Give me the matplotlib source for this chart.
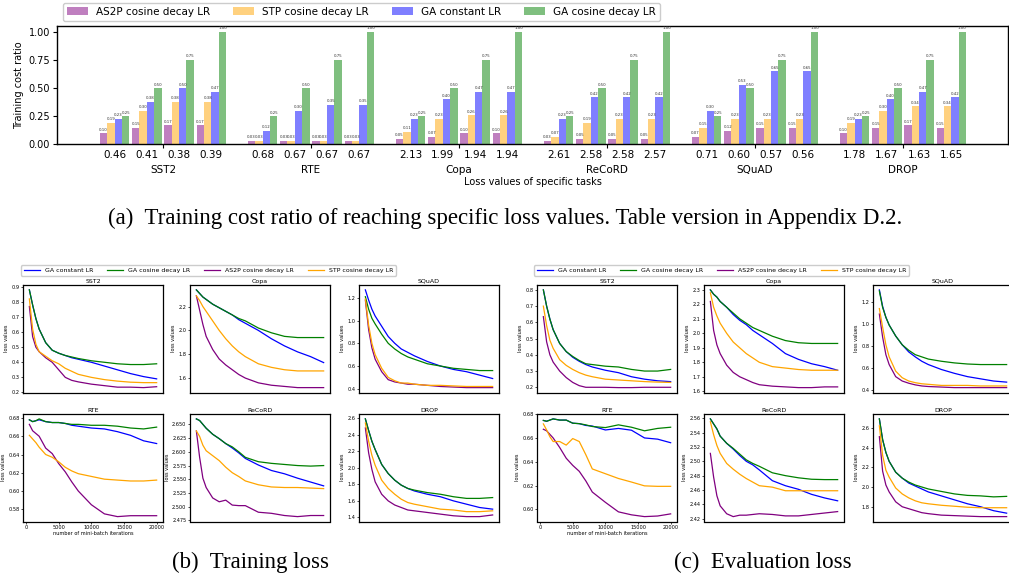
import matplotlib
matplotlib.use("Agg")
from matplotlib import pyplot as plt
import numpy as np

W, H = 1009, 573

# ---- bar chart data (training cost ratio) ----
tasks = ["SST2", "RTE", "Copa", "ReCoRD", "SQuAD", "DROP"]
loss_points = [["0.46", "0.41", "0.38", "0.39"],
               ["0.68", "0.67", "0.67", "0.67"],
               ["2.13", "1.99", "1.94", "1.94"],
               ["2.61", "2.58", "2.58", "2.57"],
               ["0.71", "0.60", "0.57", "0.56"],
               ["1.78", "1.67", "1.63", "1.65"]]
bar_methods = ["AS2P cosine decay LR", "STP cosine decay LR", "GA constant LR", "GA cosine decay LR"]
bar_colors = ["purple", "orange", "blue", "green"]
as2p_ratio = [[0.10, 0.15, 0.17, 0.17], [0.03, 0.03, 0.03, 0.03], [0.05, 0.07, 0.10, 0.10],
              [0.03, 0.05, 0.05, 0.05], [0.07, 0.12, 0.15, 0.15], [0.10, 0.15, 0.17, 0.15]]
stp_ratio = [[0.19, 0.30, 0.38, 0.38], [0.03, 0.03, 0.03, 0.03], [0.11, 0.23, 0.26, 0.26],
             [0.07, 0.19, 0.23, 0.23], [0.15, 0.23, 0.23, 0.23], [0.19, 0.30, 0.34, 0.34]]
ga_const_ratio = [[0.23, 0.38, 0.50, 0.47], [0.12, 0.30, 0.35, 0.35], [0.23, 0.40, 0.47, 0.47],
                  [0.23, 0.42, 0.42, 0.42], [0.30, 0.53, 0.65, 0.65], [0.23, 0.40, 0.47, 0.42]]
ga_cos_ratio = [[0.25, 0.50, 0.75, 1.00]] * 6

# ---- loss curves ----
iters = [500, 1000, 1500, 2000, 3000, 4000, 5000, 6000, 7000, 8000,
         10000, 12000, 14000, 16000, 18000, 20000]
line_labels = ["GA constant LR", "GA cosine decay LR", "AS2P cosine decay LR", "STP cosine decay LR"]
line_colors = ["blue", "green", "purple", "orange"]
panel_tasks = ["SST2", "Copa", "SQuAD", "RTE", "ReCoRD", "DROP"]

# training loss, order: GA const, GA cos, AS2P, STP
train_sst2 = [[0.88, 0.78, 0.69, 0.62, 0.53, 0.48, 0.46, 0.445, 0.43, 0.42, 0.40, 0.375, 0.35, 0.325, 0.305, 0.29],
              [0.88, 0.78, 0.69, 0.62, 0.53, 0.48, 0.46, 0.445, 0.435, 0.425, 0.41, 0.40, 0.39, 0.385, 0.385, 0.39],
              [0.77, 0.57, 0.50, 0.47, 0.43, 0.40, 0.35, 0.30, 0.28, 0.27, 0.255, 0.245, 0.235, 0.235, 0.232, 0.238],
              [0.82, 0.62, 0.52, 0.47, 0.44, 0.41, 0.39, 0.36, 0.34, 0.32, 0.30, 0.285, 0.275, 0.268, 0.265, 0.265]]
train_copa = [[2.34, 2.31, 2.28, 2.26, 2.22, 2.19, 2.16, 2.13, 2.09, 2.06, 2.00, 1.93, 1.87, 1.82, 1.78, 1.73],
              [2.34, 2.31, 2.28, 2.26, 2.22, 2.19, 2.16, 2.13, 2.10, 2.08, 2.02, 1.98, 1.95, 1.94, 1.94, 1.94],
              [2.29, 2.17, 2.05, 1.95, 1.84, 1.76, 1.71, 1.67, 1.63, 1.60, 1.56, 1.54, 1.53, 1.52, 1.52, 1.52],
              [2.29, 2.25, 2.20, 2.16, 2.08, 2.00, 1.93, 1.87, 1.82, 1.78, 1.72, 1.69, 1.67, 1.66, 1.66, 1.66]]
train_squad = [[1.27, 1.18, 1.10, 1.04, 0.95, 0.86, 0.80, 0.75, 0.72, 0.69, 0.64, 0.60, 0.57, 0.55, 0.52, 0.49],
               [1.21, 1.10, 1.02, 0.97, 0.88, 0.80, 0.75, 0.71, 0.68, 0.66, 0.62, 0.60, 0.58, 0.57, 0.56, 0.56],
               [1.18, 0.92, 0.76, 0.66, 0.55, 0.48, 0.46, 0.45, 0.44, 0.44, 0.43, 0.42, 0.415, 0.41, 0.41, 0.41],
               [1.19, 0.96, 0.80, 0.70, 0.58, 0.50, 0.47, 0.45, 0.45, 0.44, 0.43, 0.43, 0.425, 0.42, 0.42, 0.42]]
train_rte = [[0.678, 0.676, 0.677, 0.678, 0.676, 0.675, 0.675, 0.674, 0.672, 0.671, 0.669, 0.668, 0.665, 0.661, 0.655, 0.652],
             [0.678, 0.676, 0.677, 0.679, 0.676, 0.675, 0.675, 0.674, 0.673, 0.673, 0.672, 0.672, 0.671, 0.669, 0.668, 0.670],
             [0.673, 0.666, 0.663, 0.660, 0.647, 0.641, 0.630, 0.621, 0.610, 0.600, 0.585, 0.575, 0.572, 0.573, 0.573, 0.573],
             [0.661, 0.657, 0.653, 0.648, 0.640, 0.637, 0.632, 0.626, 0.622, 0.619, 0.616, 0.613, 0.612, 0.611, 0.611, 0.612]]
train_record = [[2.660, 2.657, 2.650, 2.643, 2.632, 2.624, 2.615, 2.607, 2.598, 2.588, 2.576, 2.566, 2.560, 2.552, 2.545, 2.538],
                [2.660, 2.657, 2.650, 2.643, 2.632, 2.624, 2.615, 2.609, 2.600, 2.590, 2.582, 2.579, 2.577, 2.575, 2.574, 2.575],
                [2.638, 2.590, 2.552, 2.535, 2.516, 2.509, 2.512, 2.503, 2.502, 2.502, 2.490, 2.488, 2.484, 2.482, 2.484, 2.484],
                [2.638, 2.628, 2.612, 2.602, 2.593, 2.584, 2.572, 2.562, 2.555, 2.547, 2.540, 2.536, 2.535, 2.535, 2.534, 2.533]]
train_drop = [[2.59, 2.45, 2.32, 2.22, 2.04, 1.93, 1.85, 1.79, 1.75, 1.72, 1.68, 1.65, 1.60, 1.56, 1.52, 1.50],
              [2.59, 2.45, 2.32, 2.22, 2.04, 1.93, 1.85, 1.79, 1.75, 1.73, 1.70, 1.68, 1.65, 1.63, 1.63, 1.64],
              [2.48, 2.18, 1.98, 1.83, 1.68, 1.60, 1.55, 1.52, 1.49, 1.48, 1.46, 1.44, 1.42, 1.41, 1.41, 1.43],
              [2.54, 2.32, 2.15, 2.03, 1.85, 1.75, 1.68, 1.62, 1.58, 1.56, 1.53, 1.50, 1.49, 1.47, 1.47, 1.48]]

# evaluation loss
eval_sst2 = [[0.80, 0.70, 0.62, 0.555, 0.47, 0.42, 0.385, 0.36, 0.34, 0.325, 0.305, 0.29, 0.265, 0.25, 0.24, 0.235],
             [0.80, 0.70, 0.62, 0.555, 0.47, 0.42, 0.39, 0.365, 0.345, 0.34, 0.33, 0.325, 0.31, 0.30, 0.30, 0.31],
             [0.635, 0.48, 0.40, 0.355, 0.30, 0.26, 0.23, 0.21, 0.20, 0.20, 0.20, 0.198, 0.198, 0.20, 0.20, 0.20],
             [0.70, 0.58, 0.49, 0.44, 0.37, 0.335, 0.31, 0.29, 0.275, 0.265, 0.25, 0.245, 0.24, 0.235, 0.232, 0.23]]
eval_copa = [[2.30, 2.27, 2.25, 2.22, 2.18, 2.13, 2.09, 2.06, 2.02, 1.99, 1.93, 1.86, 1.82, 1.79, 1.77, 1.745],
             [2.30, 2.27, 2.25, 2.22, 2.18, 2.14, 2.10, 2.07, 2.04, 2.02, 1.98, 1.95, 1.935, 1.93, 1.93, 1.93],
             [2.22, 2.02, 1.92, 1.86, 1.78, 1.73, 1.70, 1.68, 1.66, 1.645, 1.635, 1.63, 1.625, 1.625, 1.63, 1.63],
             [2.28, 2.18, 2.12, 2.07, 2.00, 1.94, 1.90, 1.86, 1.83, 1.80, 1.77, 1.76, 1.75, 1.745, 1.745, 1.745]]
eval_squad = [[1.31, 1.16, 1.06, 0.99, 0.89, 0.81, 0.745, 0.70, 0.66, 0.63, 0.585, 0.55, 0.52, 0.50, 0.48, 0.47],
              [1.30, 1.15, 1.06, 0.99, 0.89, 0.81, 0.76, 0.72, 0.70, 0.68, 0.66, 0.645, 0.635, 0.63, 0.63, 0.63],
              [1.09, 0.88, 0.72, 0.63, 0.52, 0.48, 0.46, 0.445, 0.435, 0.43, 0.425, 0.42, 0.42, 0.42, 0.42, 0.42],
              [1.14, 0.97, 0.81, 0.70, 0.57, 0.51, 0.48, 0.465, 0.455, 0.45, 0.44, 0.44, 0.44, 0.435, 0.435, 0.435]]
eval_rte = [[0.6747, 0.674, 0.675, 0.676, 0.675, 0.675, 0.6724, 0.672, 0.6705, 0.670, 0.6667, 0.668, 0.6665, 0.660, 0.659, 0.656],
            [0.6747, 0.674, 0.675, 0.676, 0.675, 0.675, 0.6724, 0.672, 0.671, 0.6696, 0.6687, 0.671, 0.669, 0.666, 0.668, 0.669],
            [0.6673, 0.666, 0.663, 0.660, 0.652, 0.643, 0.637, 0.632, 0.624, 0.6146, 0.606, 0.598, 0.5955, 0.594, 0.5945, 0.5963],
            [0.6718, 0.6667, 0.661, 0.657, 0.657, 0.654, 0.6595, 0.657, 0.646, 0.634, 0.630, 0.626, 0.623, 0.6198, 0.6194, 0.6194]]
eval_record = [[2.559, 2.552, 2.545, 2.535, 2.525, 2.517, 2.508, 2.500, 2.495, 2.488, 2.473, 2.466, 2.461, 2.454, 2.449, 2.445],
               [2.559, 2.552, 2.545, 2.535, 2.525, 2.518, 2.510, 2.502, 2.497, 2.493, 2.484, 2.480, 2.477, 2.475, 2.4745, 2.4745],
               [2.511, 2.478, 2.452, 2.438, 2.427, 2.423, 2.425, 2.425, 2.426, 2.427, 2.426, 2.424, 2.424, 2.426, 2.428, 2.430],
               [2.555, 2.537, 2.522, 2.511, 2.497, 2.489, 2.482, 2.476, 2.471, 2.466, 2.464, 2.459, 2.459, 2.459, 2.459, 2.459]]
eval_drop = [[2.69, 2.48, 2.35, 2.26, 2.15, 2.09, 2.04, 2.01, 1.98, 1.95, 1.91, 1.87, 1.83, 1.80, 1.76, 1.735],
             [2.69, 2.48, 2.35, 2.26, 2.15, 2.09, 2.05, 2.02, 2.00, 1.98, 1.955, 1.93, 1.915, 1.91, 1.90, 1.905],
             [2.51, 2.16, 2.02, 1.95, 1.85, 1.80, 1.78, 1.76, 1.74, 1.73, 1.715, 1.71, 1.705, 1.70, 1.70, 1.70],
             [2.62, 2.32, 2.17, 2.10, 1.99, 1.93, 1.89, 1.86, 1.84, 1.83, 1.815, 1.805, 1.795, 1.79, 1.79, 1.79]]

fig = plt.figure(figsize=(W / 100, H / 100), dpi=100)


def px_axes(left, top, right, bottom):
    return fig.add_axes([left / W, 1 - bottom / H, (right - left) / W, (bottom - top) / H])


# ---------------- (a) bar chart ----------------
ax = px_axes(57, 26, 1008, 144.5)
group_x = np.arange(len(tasks))
sub_step = 0.218
bar_w = 0.05
ratios = [as2p_ratio, stp_ratio, ga_const_ratio, ga_cos_ratio]
for k, (name, col, vals) in enumerate(zip(bar_methods, bar_colors, ratios)):
    xs, hs = [], []
    for g in range(len(tasks)):
        for j in range(4):
            xs.append(group_x[g] + (j - 1.5) * sub_step + (k - 1.5) * bar_w)
            hs.append(vals[g][j])
    bars = ax.bar(xs, hs, width=bar_w, color=col, alpha=0.5, label=name)
    ax.bar_label(bars, fmt="%.2f", fontsize=2.8, padding=1.2, color="#333333")

ax.set_xlim(-0.716, 5.71)
ax.set_ylim(0, 1.053)
ax.set_yticks([0, 0.25, 0.5, 0.75, 1.0])
ax.set_yticklabels(["0.00", "0.25", "0.50", "0.75", "1.00"])
ax.tick_params(axis="y", labelsize=7, length=3, pad=2)
minor_x = [group_x[g] + (j - 1.5) * sub_step for g in range(len(tasks)) for j in range(4)]
ax.set_xticks(minor_x, minor=True)
ax.set_xticklabels([v for row in loss_points for v in row], minor=True)
ax.tick_params(axis="x", which="minor", length=0, labelsize=7.5, pad=4)
ax.set_xticks(group_x)
ax.set_xticklabels(tasks)
ax.tick_params(axis="x", which="major", length=3, labelsize=7.5, pad=12)
ax.set_ylabel("Training cost ratio", fontsize=7, labelpad=3)
ax.set_xlabel("Loss values of specific tasks", fontsize=7, labelpad=1)
for s in ax.spines.values():
    s.set_linewidth(1.0)
ax.legend(loc="lower left", bbox_to_anchor=(0.004, 1.025), ncol=4, fontsize=7.5,
          handlelength=2.0, columnspacing=2.2, borderaxespad=0.2, framealpha=1,
          edgecolor="#cccccc")

fig.text(505 / W, 1 - 218 / H,
         "(a)  Training cost ratio of reaching specific loss values. Table version in Appendix D.2.",
         ha="center", va="center", fontsize=16.5, family="Liberation Serif")

# ---------------- (b)/(c) loss curves ----------------
col_lefts_train = [23, 190, 359]
col_lefts_eval = [537, 704, 873]
row_tops = [285, 414]
panel_w, panel_h = 140, 107.5


def draw_panel(col_lefts, curves_by_task, legend_cx):
    handles = None
    for idx, (name, curves) in enumerate(zip(panel_tasks, curves_by_task)):
        r, c = divmod(idx, 3)
        left, top = col_lefts[c], row_tops[r]
        a = px_axes(left, top, left + panel_w, top + panel_h)
        hs = []
        for vals, lab, col in zip(curves, line_labels, line_colors):
            h, = a.plot(iters, vals, color=col, lw=0.9, label=lab)
            hs.append(h)
        handles = hs
        a.set_title(name, fontsize=4.5, pad=1.5)
        a.set_ylabel("loss values", fontsize=3.6, labelpad=1.5)
        a.tick_params(labelsize=3.6, length=1.5, width=0.5, pad=1)
        for s in a.spines.values():
            s.set_linewidth(0.9)
        if idx == 3:
            a.set_xticks([0, 5000, 10000, 15000, 20000])
            a.set_xlabel("number of mini-batch iterations", fontsize=3.6, labelpad=1)
        else:
            a.set_xticks([])
    fig.legend(handles, line_labels, loc="center", bbox_to_anchor=(legend_cx / W, 1 - 270.5 / H),
               ncol=4, fontsize=4.5, handlelength=2.6, columnspacing=2.2, framealpha=1,
               edgecolor="#cccccc", borderpad=0.4)


draw_panel(col_lefts_train, [train_sst2, train_copa, train_squad, train_rte, train_record, train_drop], 208.5)
draw_panel(col_lefts_eval, [eval_sst2, eval_copa, eval_squad, eval_rte, eval_record, eval_drop], 721.5)

fig.text(250 / W, 1 - 562 / H, "(b)  Training loss", ha="center", va="center",
         fontsize=16.5, family="Liberation Serif")
fig.text(763 / W, 1 - 562 / H, "(c)  Evaluation loss", ha="center", va="center",
         fontsize=16.5, family="Liberation Serif")

fig.savefig("out.png", dpi=100)
